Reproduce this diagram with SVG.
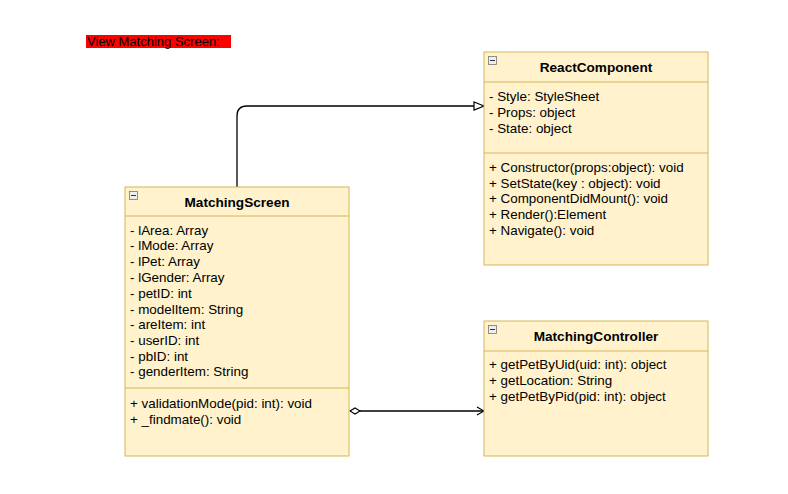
<svg xmlns="http://www.w3.org/2000/svg" width="788" height="494" viewBox="0 0 788 494">
<style>
.box{fill:#fff2cc;stroke:#d6b656;stroke-width:1}
.sep{stroke:#d6b656;stroke-width:1}
.t{font-family:"Liberation Sans",Arial,sans-serif;font-size:13.4px;fill:#000}
.h{font-family:"Liberation Sans",Arial,sans-serif;font-size:13.6px;font-weight:bold;fill:#000;text-anchor:middle}
.ic{fill:#eeeeee;stroke:#777;stroke-width:0.8}
.icm{stroke:#333;stroke-width:1}
.ln{fill:none;stroke:#000;stroke-width:1.3}
</style>
<defs>
<marker id="tri" markerWidth="12" markerHeight="10" refX="11" refY="5" orient="auto" markerUnits="userSpaceOnUse">
<path d="M1,1 L11,5 L1,9 Z" fill="#fff" stroke="#000" stroke-width="1.2"/>
</marker>
<marker id="open" markerWidth="10" markerHeight="10" refX="9" refY="5" orient="auto" markerUnits="userSpaceOnUse">
<path d="M2,1 L9,5 L2,9" fill="none" stroke="#000" stroke-width="1.2"/>
</marker>
<marker id="dia" markerWidth="12" markerHeight="8" refX="1" refY="4" orient="auto" markerUnits="userSpaceOnUse">
<path d="M1,4 L6,1 L11,4 L6,7 Z" fill="#fff" stroke="#000" stroke-width="1.1"/>
</marker>
</defs>
<g id="label">
<rect x="86" y="35" width="145" height="13" fill="#ff0000"/>
<text class="t" x="87" y="46" style="font-size:13px">View Matching Screen:</text>
</g>
<g id="connectors">
<path class="ln" d="M237,187 L237,116 Q237,106 247,106 L484,106" marker-end="url(#tri)"/>
<path class="ln" d="M350,411 L484,411" marker-start="url(#dia)" marker-end="url(#open)"/>
</g>
<g id="ReactComponent">
<rect class="box" x="484" y="52" width="224" height="213"/>
<line class="sep" x1="484" y1="82" x2="708" y2="82"/>
<line class="sep" x1="484" y1="153" x2="708" y2="153"/>
<rect class="ic" x="488.5" y="56.5" width="8" height="8"/>
<line class="icm" x1="490" y1="60.5" x2="495" y2="60.5"/>
<text class="h" x="596" y="72">ReactComponent</text>
<text class="t" x="489" y="101">- Style: StyleSheet</text>
<text class="t" x="489" y="117">- Props: object</text>
<text class="t" x="489" y="133">- State: object</text>
<text class="t" x="489" y="172">+ Constructor(props:object): void</text>
<text class="t" x="489" y="188">+ SetState(key : object): void</text>
<text class="t" x="489" y="203">+ ComponentDidMount(): void</text>
<text class="t" x="489" y="219">+ Render():Element</text>
<text class="t" x="489" y="235">+ Navigate(): void</text>
</g>
<g id="MatchingScreen">
<rect class="box" x="125" y="187" width="224" height="269"/>
<line class="sep" x1="125" y1="216" x2="349" y2="216"/>
<line class="sep" x1="125" y1="388" x2="349" y2="388"/>
<rect class="ic" x="129.5" y="191.5" width="8" height="8"/>
<line class="icm" x1="131" y1="195.5" x2="136" y2="195.5"/>
<text class="h" x="237" y="207">MatchingScreen</text>
<text class="t" x="130" y="235">- lArea: Array</text>
<text class="t" x="130" y="250">- lMode: Array</text>
<text class="t" x="130" y="266">- lPet: Array</text>
<text class="t" x="130" y="282">- lGender: Array</text>
<text class="t" x="130" y="298">- petID: int</text>
<text class="t" x="130" y="314">- modelItem: String</text>
<text class="t" x="130" y="329">- areItem: int</text>
<text class="t" x="130" y="345">- userID: int</text>
<text class="t" x="130" y="361">- pbID: int</text>
<text class="t" x="130" y="376">- genderItem: String</text>
<text class="t" x="130" y="408">+ validationMode(pid: int): void</text>
<text class="t" x="130" y="424">+ _findmate(): void</text>
</g>
<g id="MatchingController">
<rect class="box" x="484" y="321" width="224" height="135"/>
<line class="sep" x1="484" y1="351" x2="708" y2="351"/>
<rect class="ic" x="488.5" y="325.5" width="8" height="8"/>
<line class="icm" x1="490" y1="329.5" x2="495" y2="329.5"/>
<text class="h" x="596" y="341">MatchingController</text>
<text class="t" x="489" y="369">+ getPetByUid(uid: int): object</text>
<text class="t" x="489" y="385">+ getLocation: String</text>
<text class="t" x="489" y="401">+ getPetByPid(pid: int): object</text>
</g>
</svg>
